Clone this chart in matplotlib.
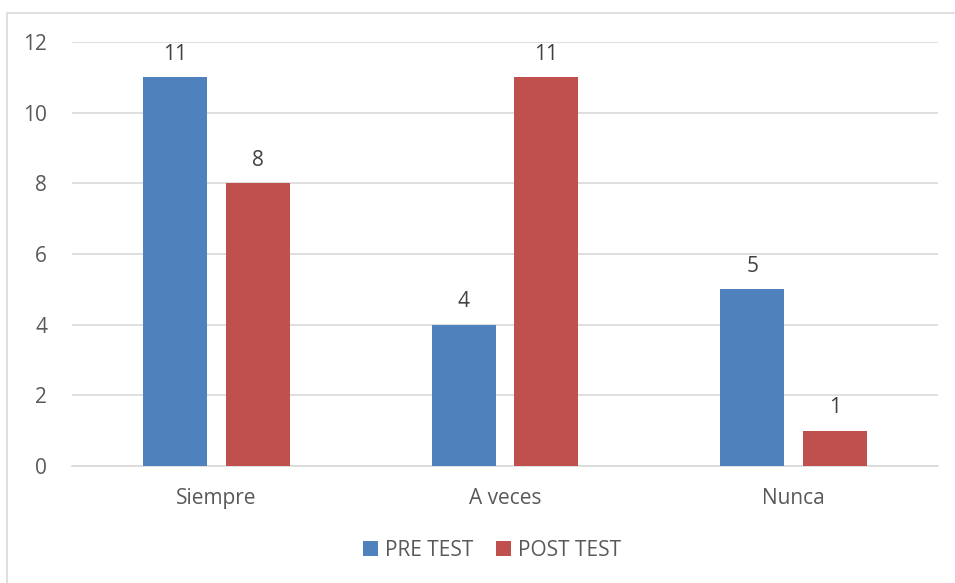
import matplotlib
matplotlib.use("Agg")
import matplotlib.pyplot as plt
from matplotlib.patches import Rectangle
import numpy as np

categories = ["Siempre", "A veces", "Nunca"]
pre_test = [11, 4, 5]
post_test = [8, 11, 1]
series_names = ["PRE TEST", "POST TEST"]
yticks = [0, 2, 4, 6, 8, 10, 12]

plt.rcParams['font.family'] = ['Open Sans', 'DejaVu Sans']
FS = 15
W, H = 955, 583
fig = plt.figure(figsize=(W/100, H/100), dpi=100)
ax = fig.add_axes([72/W, 1-466/H, (938-72)/W, (466-42)/H])

x = np.arange(len(categories))
bw = 0.222
off = 0.143
blue = "#4F81BD"
red = "#C0504D"
b1 = ax.bar(x - off, pre_test, bw, color=blue, label=series_names[0], zorder=3)
b2 = ax.bar(x + off, post_test, bw, color=red, label=series_names[1], zorder=3)

for bars, vals in ((b1, pre_test), (b2, post_test)):
    for r, v in zip(bars, vals):
        ax.text(r.get_x() + r.get_width()/2, v + 0.35, str(v), ha='center', va='bottom',
                fontsize=FS, color='#404040')

ax.set_xlim(-0.5, 2.5)
ax.set_ylim(0, 12)
ax.set_yticks(yticks)
ax.set_yticklabels([str(t) for t in yticks], fontsize=FS, color='#595959')
ax.set_xticks(x)
ax.set_xticklabels(categories, fontsize=FS, color='#595959')
ax.tick_params(axis='both', length=0)
ax.tick_params(axis='y', pad=18)
ax.tick_params(axis='x', pad=16)
ax.grid(axis='y', color='#D9D9D9', linewidth=1.2, zorder=0)
for s in ['top', 'right', 'left']:
    ax.spines[s].set_visible(False)
ax.spines['bottom'].set_color('#D9D9D9')
ax.spines['bottom'].set_linewidth(1.2)

leg = fig.legend(handles=[b1, b2], labels=series_names, loc='center', ncol=2,
                 bbox_to_anchor=(492/W, 1-550/H), frameon=False, fontsize=FS,
                 handlelength=0.7, handleheight=0.7, handletextpad=0.35, columnspacing=1.1)
for t in leg.get_texts():
    t.set_color('#595959')

fig.patches.append(Rectangle((7/W, -0.1), 1.2, (1+0.1) - 13/H, transform=fig.transFigure,
                             fill=False, edgecolor='#D9D9D9', linewidth=1.2))

fig.savefig("out.png", dpi=100)
